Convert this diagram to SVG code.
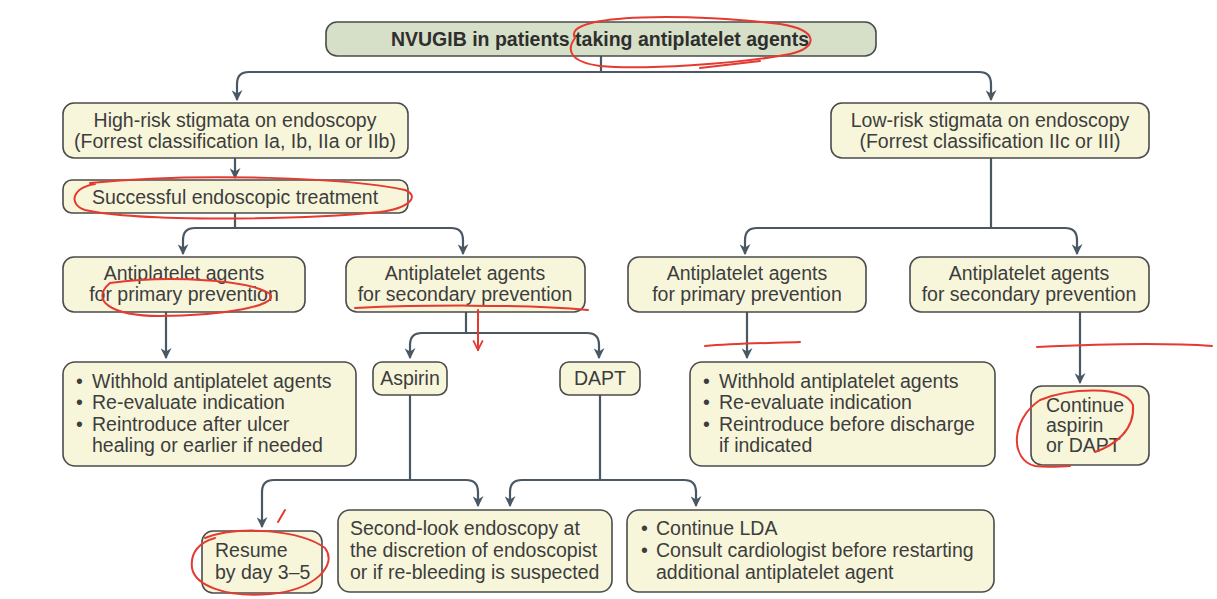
<svg xmlns="http://www.w3.org/2000/svg" width="1217" height="599" viewBox="0 0 1217 599">
<defs>
<marker id="arr" viewBox="0 0 10 10" refX="9" refY="5" markerWidth="5" markerHeight="5" orient="auto" markerUnits="strokeWidth">
<path d="M0,0 L10,5 L0,10 L3,5 z" fill="#4a5864"/>
</marker>
<marker id="rarr" viewBox="0 0 10 10" refX="9" refY="5" markerWidth="6" markerHeight="6" orient="auto" markerUnits="strokeWidth">
<path d="M1,1 L9,5 L1,9" fill="none" stroke="#e53a2f" stroke-width="1.5"/>
</marker>
</defs>
<style>
.box{fill:#f7f6db;stroke:#4b4b4b;stroke-width:1.6}
.title{fill:#d6dfc7;stroke:#4b4b4b;stroke-width:1.6}
text{font-family:"Liberation Sans",Arial,sans-serif;font-size:19.5px;fill:#3d3d3d}
.c{text-anchor:middle}
.b{font-weight:bold;font-size:19.5px;fill:#2e2e2e}
.con{fill:none;stroke:#4a5864;stroke-width:2.2}
.red{fill:none;stroke:#e53a2f;stroke-width:2;stroke-linecap:round}
</style>
<rect width="1217" height="599" fill="#ffffff"/>

<g id="connectors">
<path class="con" d="M601,56 V72"/>
<path class="con" d="M601,72 H249 Q237,72 237,84 V100" marker-end="url(#arr)"/>
<path class="con" d="M601,72 H979 Q991,72 991,84 V100" marker-end="url(#arr)"/>
<path class="con" d="M235,158 V178" marker-end="url(#arr)"/>
<path class="con" d="M235,213 V228"/>
<path class="con" d="M235,228 H195 Q183,228 183,240 V254" marker-end="url(#arr)"/>
<path class="con" d="M235,228 H451 Q463,228 463,240 V254" marker-end="url(#arr)"/>
<path class="con" d="M991,158 V228"/>
<path class="con" d="M991,228 H757 Q745,228 745,240 V254" marker-end="url(#arr)"/>
<path class="con" d="M991,228 H1065 Q1077,228 1077,240 V254" marker-end="url(#arr)"/>
<path class="con" d="M166,312 V358" marker-end="url(#arr)"/>
<path class="con" d="M466,312 V333"/>
<path class="con" d="M466,333 H422 Q410,333 410,345 V358" marker-end="url(#arr)"/>
<path class="con" d="M466,333 H587 Q599,333 599,345 V358" marker-end="url(#arr)"/>
<path class="con" d="M747,312 V358" marker-end="url(#arr)"/>
<path class="con" d="M1080,312 V383" marker-end="url(#arr)"/>
<path class="con" d="M410,395 V480"/>
<path class="con" d="M410,480 H274 Q262,480 262,492 V527" marker-end="url(#arr)"/>
<path class="con" d="M410,480 H466 Q478,480 478,492 V506" marker-end="url(#arr)"/>
<path class="con" d="M600,395 V480"/>
<path class="con" d="M600,480 H522 Q510,480 510,492 V506" marker-end="url(#arr)"/>
<path class="con" d="M600,480 H684 Q696,480 696,492 V506" marker-end="url(#arr)"/>
</g>

<g id="n-title">
<rect class="title" x="326" y="22" width="550" height="34" rx="11"/>
<text class="c b" x="600" y="46">NVUGIB in patients taking antiplatelet agents</text>
</g>
<g id="n-highrisk">
<rect class="box" x="63" y="103" width="345" height="55" rx="11"/>
<text class="c" x="235" y="127">High-risk stigmata on endoscopy</text>
<text class="c" x="235" y="148">(Forrest classification Ia, Ib, IIa or IIb)</text>
</g>
<g id="n-success">
<rect class="box" x="63" y="180" width="345" height="33" rx="9"/>
<text class="c" x="235" y="204">Successful endoscopic treatment</text>
</g>
<g id="n-lowrisk">
<rect class="box" x="831" y="103" width="318" height="55" rx="11"/>
<text class="c" x="990" y="127">Low-risk stigmata on endoscopy</text>
<text class="c" x="990" y="148">(Forrest classification IIc or III)</text>
</g>
<g id="n-prim1">
<rect class="box" x="63" y="257" width="242" height="55" rx="11"/>
<text class="c" x="184" y="280">Antiplatelet agents</text>
<text class="c" x="184" y="301">for primary prevention</text>
</g>
<g id="n-sec1">
<rect class="box" x="346" y="257" width="239" height="55" rx="11"/>
<text class="c" x="465" y="280">Antiplatelet agents</text>
<text class="c" x="465" y="301">for secondary prevention</text>
</g>
<g id="n-prim2">
<rect class="box" x="628" y="257" width="238" height="55" rx="11"/>
<text class="c" x="747" y="280">Antiplatelet agents</text>
<text class="c" x="747" y="301">for primary prevention</text>
</g>
<g id="n-sec2">
<rect class="box" x="910" y="257" width="239" height="55" rx="11"/>
<text class="c" x="1029" y="280">Antiplatelet agents</text>
<text class="c" x="1029" y="301">for secondary prevention</text>
</g>
<g id="n-withhold1">
<rect class="box" x="63" y="362" width="293" height="104" rx="12"/>
<text x="76" y="388">•</text><text x="92" y="388">Withhold antiplatelet agents</text>
<text x="76" y="409">•</text><text x="92" y="409">Re-evaluate indication</text>
<text x="76" y="431">•</text><text x="92" y="431">Reintroduce after ulcer</text>
<text x="92" y="452">healing or earlier if needed</text>
</g>
<g id="n-aspirin">
<rect class="box" x="373" y="362" width="74" height="33" rx="9"/>
<text class="c" x="410" y="385">Aspirin</text>
</g>
<g id="n-dapt">
<rect class="box" x="560" y="362" width="80" height="33" rx="9"/>
<text class="c" x="600" y="385">DAPT</text>
</g>
<g id="n-withhold2">
<rect class="box" x="690" y="362" width="305" height="104" rx="12"/>
<text x="703" y="388">•</text><text x="719" y="388">Withhold antiplatelet agents</text>
<text x="703" y="409">•</text><text x="719" y="409">Re-evaluate indication</text>
<text x="703" y="431">•</text><text x="719" y="431">Reintroduce before discharge</text>
<text x="719" y="452">if indicated</text>
</g>
<g id="n-continue">
<rect class="box" x="1031" y="386" width="118" height="79" rx="11"/>
<text x="1046" y="412">Continue</text>
<text x="1046" y="432">aspirin</text>
<text x="1046" y="452">or DAPT</text>
</g>
<g id="n-resume">
<rect class="box" x="202" y="531" width="120" height="62" rx="11"/>
<text x="215" y="557">Resume</text>
<text x="215" y="579">by day 3–5</text>
</g>
<g id="n-second">
<rect class="box" x="338" y="510" width="274" height="82" rx="12"/>
<text x="350" y="535">Second-look endoscopy at</text>
<text x="350" y="557">the discretion of endoscopist</text>
<text x="350" y="579">or if re-bleeding is suspected</text>
</g>
<g id="n-lda">
<rect class="box" x="627" y="510" width="367" height="82" rx="12"/>
<text x="641" y="535">•</text><text x="656" y="535">Continue LDA</text>
<text x="641" y="557">•</text><text x="656" y="557">Consult cardiologist before restarting</text>
<text x="656" y="579">additional antiplatelet agent</text>
</g>

<g id="annotations">
<path class="red" d="M575,38 C560,12 700,14 780,24 C820,30 818,48 790,54 C740,64 640,70 600,66 C570,62 566,50 575,38"/>
<path class="red" d="M700,68 L760,61"/>
<path class="red" d="M90,183 C200,172 350,178 405,190 C420,196 410,208 380,212 C300,220 140,222 85,210 C68,204 72,188 95,184"/>
<path class="red" d="M110,283 C170,275 250,280 270,294 C280,306 220,316 160,316 C110,316 90,300 110,283"/>
<path class="red" d="M355,308 C420,305 520,304 588,310"/>
<path class="red" d="M478,310 V350" marker-end="url(#rarr)"/>
<path class="red" d="M705,346 C740,343 780,343 800,342"/>
<path class="red" d="M1037,347 C1100,344 1170,343 1212,346"/>
<path class="red" d="M1133,405 C1125,385 1070,388 1040,400 C1010,420 1010,460 1035,466 C1050,468 1060,466 1070,466"/>
<path class="red" d="M1095,452 C1115,445 1135,430 1133,405"/>
<path class="red" d="M205,538 C240,525 300,530 325,548 C338,565 315,590 270,594 C225,598 195,585 192,568 C190,552 200,542 215,538"/>
<path class="red" d="M278,522 L285,510"/>
</g>
</svg>
